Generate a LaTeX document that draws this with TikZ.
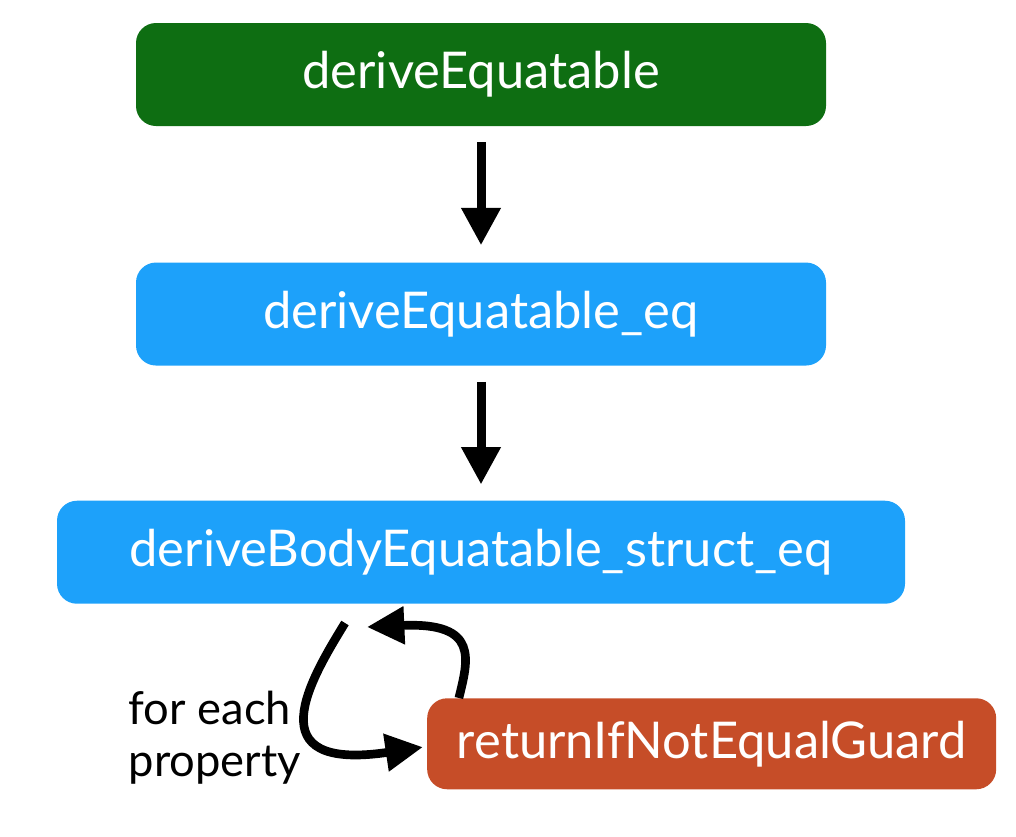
\documentclass[tikz,border=0pt]{standalone}
\usepackage{fontspec}
\setmainfont{Lato}
\usetikzlibrary{positioning,arrows.meta}
\definecolor{derivegreen}{RGB}{14,110,18}
\definecolor{deriveblue}{RGB}{29,161,250}
\definecolor{guardred}{RGB}{198,77,40}
\tikzset{
  fnbox/.style={rounded corners=15pt, text=white, inner sep=0pt, minimum height=77.25pt,
    font=\fontsize{38}{44}\selectfont},
  flow/.style={line width=6.75pt, -{Triangle[width=28pt,length=28pt]}},
  loopline/.style={line width=6.5pt, -{Triangle[width=27pt,length=28pt]}}
}
\begin{document}
\begin{tikzpicture}[x=0.75pt, y=-0.75pt, node distance=102pt]
  \useasboundingbox (0,0) rectangle (1016,836);

  \node[fnbox, fill=derivegreen, minimum width=517.5pt] (derive) at (481,74.5) {deriveEquatable};
  \node[fnbox, fill=deriveblue, minimum width=517.5pt, below=of derive] (deriveeq) {deriveEquatable\_eq};
  \node[fnbox, fill=deriveblue, minimum width=636pt, below=101pt of deriveeq] (body) {deriveBodyEquatable\_struct\_eq};
  \node[fnbox, fill=guardred, minimum width=426.75pt, minimum height=68.25pt,
    below=70.5pt of body, xshift=173pt] (guard) {returnIfNotEqualGuard};

  \draw[flow] ([yshift=-12pt]derive.south) -- ([yshift=12.75pt]deriveeq.north);
  \draw[flow] ([yshift=-12pt]deriveeq.south) -- ([yshift=12pt]body.north);

  % loop over the properties
  \coordinate (loopstart) at (345,623);
  \coordinate (loopback) at (367,627);
  \draw[loopline] (loopstart) .. controls (310,680) and (255,772) .. ([xshift=-3pt,yshift=-2.5pt]guard.west);
  \draw[loopline] ([xshift=24pt]guard.north west) .. controls (468,660) and (480,622) .. (loopback);

  \node[anchor=west, align=left, font=\fontsize{34}{39}\selectfont] (foreach) at (124,738) {for each\\property};
\end{tikzpicture}
\end{document}
